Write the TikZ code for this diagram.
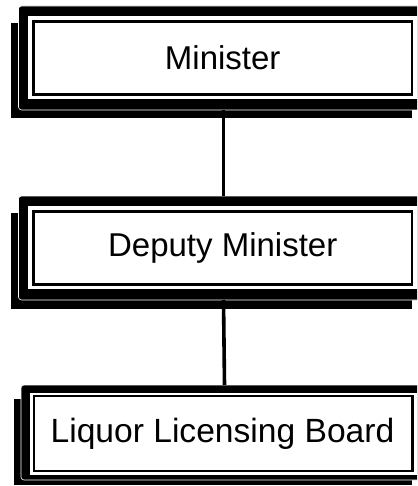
\documentclass[tikz,border=0pt]{standalone}
\usepackage{fontspec}
\setmainfont{Liberation Sans}
\begin{document}
\begin{tikzpicture}[x=1pt,y=-1pt,
  shadowfill/.style={fill=black},
  frame/.style={shape=rectangle, fill=black, draw=white, line width=0.6pt,
    rounded corners=3pt, inner sep=0pt, outer sep=0pt},
  gap/.style={fill=white},
  innerline/.style={draw=black, line width=2.8pt},
  caption/.style={inner sep=0pt, font=\fontsize{33}{36}\selectfont},
  link/.style={draw=black, line width=3.6pt}]
\useasboundingbox (0,0) rectangle (417,486);
\clip (0,0) rectangle (417,486);

% Minister
\fill[shadowfill] (11,23) rectangle (412,118.5);
\node[frame, minimum width=410pt, minimum height=104pt] (b1) at (223.5,58) {};
\fill[gap] (28.3,15.8) rectangle (417,99.3);
\draw[innerline] (33.3,21.3) rectangle (412,94.7);
\node[caption] (t1) at (222.7,58) {Minister};

% Deputy Minister
\fill[shadowfill] (11,213) rectangle (412,308.5);
\node[frame, minimum width=410pt, minimum height=104pt] (b2) at (223.5,248) {};
\fill[gap] (28.3,205.8) rectangle (417,289.3);
\draw[innerline] (33.3,211.3) rectangle (412,284.7);
\node[caption] (t2) at (222.7,248) {Deputy Minister};

% Liquor Licensing Board
\fill[shadowfill] (14,399) rectangle (412,484.5);
\node[frame, minimum width=407pt, minimum height=95pt] (b3) at (224.5,432.5) {};
\fill[gap] (30.3,392.5) rectangle (417,474.5);
\draw[innerline] (34,396) rectangle (412.5,471);
\node[caption, font=\fontsize{33.6}{36}\selectfont] (t3) at (222.5,433.5) {Liquor Licensing Board};

% reporting lines
\draw[link] (b1.south) -- (b2.north);
\draw[link] (b2.south) -- (b3.north);
\end{tikzpicture}
\end{document}
